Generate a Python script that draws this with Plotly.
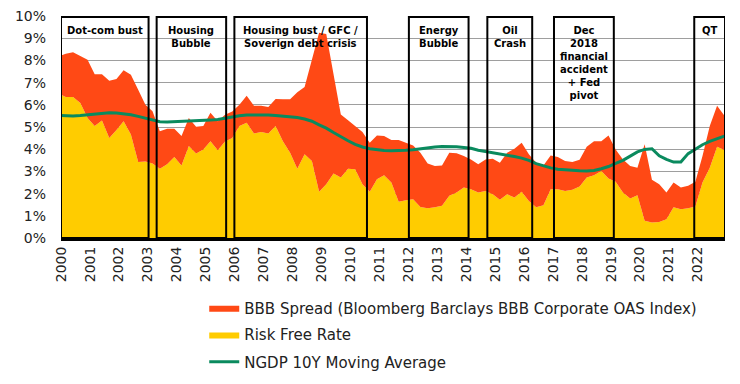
import pandas as pd
import plotly.graph_objects as go

# Quarterly observations (Dec 1999 .. Dec 2022), values in %
dates = pd.date_range("1999-12-01", "2022-12-01", freq="3MS")

bbb_yield = [8.18,
    8.30, 8.37, 8.18, 8.03,
    7.38, 7.38, 7.08, 7.16,
    7.56, 7.35, 6.68, 6.00,
    5.71, 4.81, 4.92, 4.92,
    4.59, 5.41, 5.01, 5.04,
    5.64, 5.26, 5.55, 5.70,
    6.00, 6.41, 5.96, 5.96,
    5.90, 6.26, 6.25, 6.25,
    6.56, 6.80, 8.03, 9.25,
    9.19, 7.28, 5.56, 5.30,
    5.04, 4.77, 4.29, 4.62,
    4.59, 4.41, 4.41, 4.30,
    4.17, 3.84, 3.36, 3.24,
    3.27, 3.84, 3.82, 3.69,
    3.54, 3.32, 3.54, 3.57,
    3.39, 3.84, 4.02, 4.29,
    3.77, 3.39, 3.27, 3.72,
    3.65, 3.47, 3.42, 3.52,
    4.11, 4.36, 4.36, 4.62,
    3.99, 3.54, 3.24, 3.17,
    4.22, 2.62, 2.42, 2.05,
    2.50, 2.27, 2.35, 2.53,
    3.69, 5.04, 5.96, 5.52]

risk_free = [6.50,
    6.35, 6.35, 6.08, 5.41,
    5.04, 5.29, 4.51, 4.86,
    5.26, 4.66, 3.42, 3.45,
    3.36, 3.12, 3.32, 3.65,
    3.27, 4.14, 3.81, 3.99,
    4.36, 3.95, 4.35, 4.50,
    5.04, 5.19, 4.71, 4.77,
    4.71, 5.04, 4.36, 3.84,
    3.12, 3.77, 3.47, 2.08,
    2.42, 2.91, 2.72, 3.12,
    3.10, 2.42, 2.08, 2.65,
    2.83, 2.50, 1.63, 1.70,
    1.75, 1.40, 1.34, 1.38,
    1.45, 1.90, 2.05, 2.27,
    2.20, 2.05, 2.12, 1.97,
    1.72, 1.97, 1.82, 2.08,
    1.67, 1.38, 1.48, 2.20,
    2.20, 2.12, 2.17, 2.32,
    2.72, 2.83, 3.02, 2.68,
    2.53, 2.05, 1.78, 1.93,
    0.78, 0.70, 0.72, 0.85,
    1.38, 1.30, 1.34, 1.42,
    2.50, 3.17, 4.11, 3.96]

ngdp_10y = [5.52,
    5.50, 5.50, 5.52, 5.55,
    5.58, 5.62, 5.64, 5.63,
    5.60, 5.55, 5.48, 5.40,
    5.30, 5.24, 5.22, 5.23,
    5.26, 5.28, 5.29, 5.30,
    5.31, 5.34, 5.40, 5.46,
    5.51, 5.54, 5.55, 5.55,
    5.54, 5.52, 5.50, 5.46,
    5.43, 5.36, 5.26, 5.10,
    4.95, 4.75, 4.55, 4.38,
    4.22, 4.10, 4.02, 3.97,
    3.94, 3.93, 3.93, 3.95,
    3.98, 4.03, 4.08, 4.10,
    4.12, 4.12, 4.11, 4.08,
    4.04, 3.95, 3.90, 3.84,
    3.78, 3.72, 3.67, 3.60,
    3.50, 3.35, 3.24, 3.16,
    3.10, 3.07, 3.05, 3.03,
    3.02, 3.04, 3.12, 3.22,
    3.36, 3.50, 3.69, 3.88,
    3.99, 4.02, 3.70, 3.54,
    3.42, 3.42, 3.80, 4.02,
    4.20, 4.35, 4.48, 4.59]

# Event windows
event_labels = ["Dot-com bust", "Housing<br>Bubble",
                "Housing bust / GFC /<br>Soverign debt crisis",
                "Energy<br>Bubble", "Oil<br>Crash",
                "Dec<br>2018<br>financial<br>accident<br>+ Fed<br>pivot", "QT"]
event_start = ["2000-01-01", "2003-04-22", "2005-12-28", "2012-01-08",
               "2014-09-24", "2017-01-12", "2021-11-17"]
event_end = ["2003-01-10", "2005-09-15", "2010-07-28", "2014-01-30",
             "2016-04-12", "2019-02-06", "2022-12-10"]

YELLOW = "#FFCC00"
RED = "#FF4915"
GREEN = "#0A8A5E"
FONT = "DejaVu Sans"

fig = go.Figure()
fig.add_trace(go.Scatter(x=dates, y=risk_free, mode="lines", line=dict(width=0, color=YELLOW),
                         fill="tozeroy", fillcolor=YELLOW, name="Risk Free Rate",
                         legend="legend2"))
fig.add_trace(go.Scatter(x=dates, y=bbb_yield, mode="lines", line=dict(width=0, color=RED),
                         fill="tonexty", fillcolor=RED,
                         name="BBB Spread (Bloomberg Barclays BBB Corporate OAS Index)",
                         legend="legend"))
fig.add_trace(go.Scatter(x=dates, y=ngdp_10y, mode="lines", line=dict(width=3, color=GREEN),
                         name="NGDP 10Y Moving Average", legend="legend3"))

shapes = []
annotations = []
for lab, s, e in zip(event_labels, event_start, event_end):
    shapes.append(dict(type="rect", xref="x", yref="y", x0=s, x1=e, y0=0, y1=9.96,
                       line=dict(color="black", width=2), layer="above"))
    mid = pd.Timestamp(s) + (pd.Timestamp(e) - pd.Timestamp(s)) / 2
    annotations.append(dict(x=mid, y=1, xref="x", yref="paper", text=lab, showarrow=False,
                            xanchor="center", yanchor="top", yshift=-7,
                            font=dict(family=FONT, size=10, color="black", weight="bold")))

leg_common = dict(xref="container", yref="container", xanchor="left", yanchor="middle",
                  bgcolor="rgba(0,0,0,0)", borderwidth=0,
                  font=dict(family=FONT, size=15, color="#222"), itemwidth=30)
fig.update_layout(
    width=740, height=384,
    margin=dict(l=61, r=15, t=16, b=146, autoexpand=False),
    paper_bgcolor="white", plot_bgcolor="white",
    shapes=shapes, annotations=annotations,
    showlegend=True,
    legend=dict(x=0.276, y=0.198, **leg_common),
    legend2=dict(x=0.276, y=0.128, **leg_common),
    legend3=dict(x=0.276, y=0.057, **leg_common),
    xaxis=dict(type="date", range=["2000-01-01", "2022-12-10"], tickformat="%Y",
               dtick="M12", tick0="2000-01-01", tickangle=-90, showgrid=False,
               showline=True, linecolor="black", linewidth=3, ticks="", automargin=False,
               tickfont=dict(family=FONT, size=14, color="#222")),
    yaxis=dict(range=[0, 10], dtick=1, ticksuffix="%", showgrid=True, gridcolor="#9e9e9e",
               gridwidth=1, zeroline=False, showline=False, ticks="", automargin=False,
               ticklabelstandoff=14,
               tickfont=dict(family=FONT, size=14, color="#222")),
)

fig.write_html("out.html", config={"displayModeBar": False},
               post_script="document.body.style.margin='0';document.body.style.padding='0';")
